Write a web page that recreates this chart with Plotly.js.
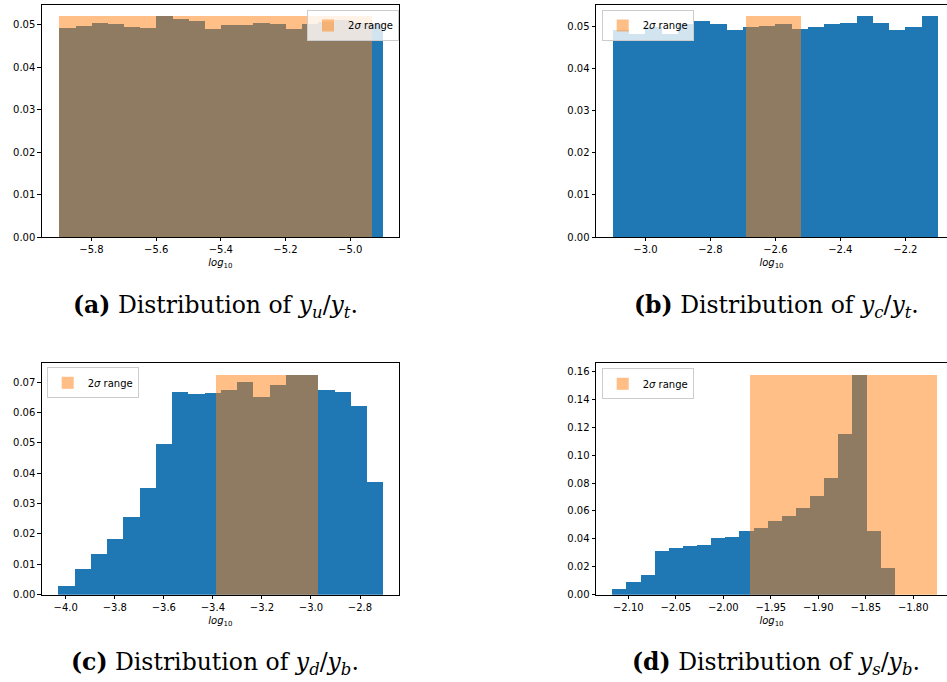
<!DOCTYPE html>
<html>
<head>
<meta charset="utf-8">
<script src="https://cdn.plot.ly/plotly-3.0.1.min.js"></script>
<style>html,body{margin:0;padding:0;background:#fff;}#chart{width:947px;height:682px;}</style>
</head>
<body>
<div id="chart"></div>
<script>
// ---- Data ----
// Panel (a): y_u / y_t
const aBinRange = [-5.9, -4.9];
const aDensity = [0.0492, 0.0497, 0.0504, 0.0502, 0.0495, 0.0492, 0.0520, 0.0513, 0.0509, 0.0490,
                  0.0499, 0.0499, 0.0504, 0.0502, 0.0490, 0.0502, 0.0506, 0.0511, 0.0505, 0.0502];
const aSigma = [-5.9, -4.933];

// Panel (b): y_c / y_t
const bBinRange = [-3.1, -2.1];
const bDensity = [0.0492, 0.0482, 0.0500, 0.0482, 0.0505, 0.0512, 0.0505, 0.0491, 0.0500, 0.0502,
                  0.0505, 0.0493, 0.0500, 0.0507, 0.0509, 0.0524, 0.0509, 0.0491, 0.0500, 0.0524];
const bSigma = [-2.690, -2.522];

// Panel (c): y_d / y_b
const cBinRange = [-4.031, -2.706];
const cDensity = [0.0029, 0.0085, 0.0134, 0.0183, 0.0256, 0.0354, 0.0496, 0.0667, 0.0661, 0.0664,
                  0.0674, 0.0700, 0.0651, 0.0693, 0.0723, 0.0726, 0.0674, 0.0667, 0.0624, 0.0371];
const cSigma = [-3.390, -2.973];

// Panel (d): y_s / y_b
const dBinRange = [-2.1168, -1.8195];
const dDensity = [0.0041, 0.0093, 0.0141, 0.0313, 0.0334, 0.0349, 0.0356, 0.0406, 0.0413, 0.0456,
                  0.0478, 0.0528, 0.0564, 0.0621, 0.0707, 0.0836, 0.1151, 0.1579, 0.0456, 0.0191];
const dSigma = [-1.9718, -1.7755];

const legendLabel = '2<i>σ</i> range';
const xLabel = '<i>log</i><sub>10</sub>';
const captions = [
  '<b>(a)</b> Distribution of <i>y<sub>u</sub></i>/<i>y<sub>t</sub></i>.',
  '<b>(b)</b> Distribution of <i>y<sub>c</sub></i>/<i>y<sub>t</sub></i>.',
  '<b>(c)</b> Distribution of <i>y<sub>d</sub></i>/<i>y<sub>b</sub></i>.',
  '<b>(d)</b> Distribution of <i>y<sub>s</sub></i>/<i>y<sub>b</sub></i>.'
];

// ---- Build ----
const BLUE = '#1f77b4', ORANGE = '#ff7f0e';
const panels = [
  {range: aBinRange, dens: aDensity, sigma: aSigma, ax: ''},
  {range: bBinRange, dens: bDensity, sigma: bSigma, ax: '2'},
  {range: cBinRange, dens: cDensity, sigma: cSigma, ax: '3'},
  {range: dBinRange, dens: dDensity, sigma: dSigma, ax: '4'}
];
const traces = [];
panels.forEach((p, i) => {
  const n = p.dens.length;
  const w = (p.range[1] - p.range[0]) / n;
  const centers = p.dens.map((_, k) => p.range[0] + (k + 0.5) * w);
  traces.push({
    type: 'bar', x: centers, y: p.dens, width: w,
    marker: {color: BLUE, line: {width: 0}},
    xaxis: 'x' + p.ax, yaxis: 'y' + p.ax, showlegend: false, hoverinfo: 'skip'
  });
  traces.push({
    type: 'bar', x: [(p.sigma[0] + p.sigma[1]) / 2], y: [Math.max(...p.dens)],
    width: p.sigma[1] - p.sigma[0],
    marker: {color: ORANGE, line: {width: 0}}, opacity: 0.5,
    name: legendLabel, xaxis: 'x' + p.ax, yaxis: 'y' + p.ax,
    legend: i === 0 ? 'legend' : 'legend' + (i + 1), showlegend: true, hoverinfo: 'skip'
  });
});

const W = 947, H = 682;
const px = v => v / W, py = v => 1 - v / H;
const tickFont = {family: 'DejaVu Sans', size: 10, color: '#000'};
function xax(dom, rng, dtick, fmt) {
  return {domain: dom, range: rng, dtick: dtick, tickformat: fmt, ticks: 'outside', ticklen: 3.5,
          tickwidth: 0.8, tickcolor: '#000', showline: true, linecolor: '#000', linewidth: 0.8,
          mirror: true, showgrid: false, zeroline: false, tickfont: tickFont,
          title: {text: xLabel, font: {family: 'DejaVu Sans', size: 10, color: '#000'}, standoff: 4},
          fixedrange: true};
}
function yax(dom, rng, dtick, mirror, anchor) {
  return {domain: dom, range: rng, dtick: dtick, tick0: 0, tickformat: '.2f', ticks: 'outside', ticklen: 3.5,
          tickwidth: 0.8, tickcolor: '#000', showline: true, linecolor: '#000', linewidth: 0.8,
          mirror: mirror, showgrid: false, zeroline: false, tickfont: tickFont, anchor: anchor,
          fixedrange: true};
}
const dxL = [px(41.7), px(399)], dxR = [px(596), 1];
const dyT = [py(237), py(4.7)], dyB = [py(594.7), py(362.7)];

const legendBase = {bgcolor: 'rgba(255,255,255,0.8)', bordercolor: '#cccccc', borderwidth: 1,
  font: {family: 'DejaVu Sans', size: 10, color: '#000'}, xanchor: 'left', yanchor: 'top',
  itemwidth: 30, tracegroupgap: 0};

const capFont = {family: 'DejaVu Serif', size: 23.5, color: '#000'};
const layout = {
  width: W, height: H, margin: {l: 0, r: 0, t: 0, b: 0},
  paper_bgcolor: '#fff', plot_bgcolor: '#fff', barmode: 'overlay', bargap: 0,
  xaxis: Object.assign(xax(dxL, [-5.954, -4.849], 0.2, '.1f'), {anchor: 'y'}),
  yaxis: yax(dyT, [0, 0.0547], 0.01, true, 'x'),
  xaxis2: Object.assign(xax(dxR, [-3.152, -2.0717], 0.2, '.1f'), {anchor: 'y2'}),
  yaxis2: yax(dyT, [0, 0.0551], 0.01, false, 'x2'),
  xaxis3: Object.assign(xax(dxL, [-4.098, -2.641], 0.2, '.1f'), {anchor: 'y3'}),
  yaxis3: yax(dyB, [0, 0.0764], 0.01, true, 'x3'),
  xaxis4: Object.assign(xax(dxR, [-2.134, -1.7645], 0.05, '.2f'), {anchor: 'y4', tick0: -2.1}),
  yaxis4: yax(dyB, [0, 0.1662], 0.02, false, 'x4'),
  legend: Object.assign({}, legendBase, {x: px(307), y: py(10)}),
  legend2: Object.assign({}, legendBase, {x: px(601.7), y: py(10)}),
  legend3: Object.assign({}, legendBase, {x: px(46.7), y: py(367.3)}),
  legend4: Object.assign({}, legendBase, {x: px(601.7), y: py(368.3)}),
  annotations: [
    {text: captions[0], x: px(215), y: py(306), xref: 'paper', yref: 'paper', showarrow: false, font: capFont, xanchor: 'center', yanchor: 'middle'},
    {text: captions[1], x: px(776), y: py(306), xref: 'paper', yref: 'paper', showarrow: false, font: capFont, xanchor: 'center', yanchor: 'middle'},
    {text: captions[2], x: px(215), y: py(663), xref: 'paper', yref: 'paper', showarrow: false, font: capFont, xanchor: 'center', yanchor: 'middle'},
    {text: captions[3], x: px(776), y: py(663), xref: 'paper', yref: 'paper', showarrow: false, font: capFont, xanchor: 'center', yanchor: 'middle'}
  ]
};
Plotly.newPlot('chart', traces, layout, {displayModeBar: false});
</script>
</body>
</html>
